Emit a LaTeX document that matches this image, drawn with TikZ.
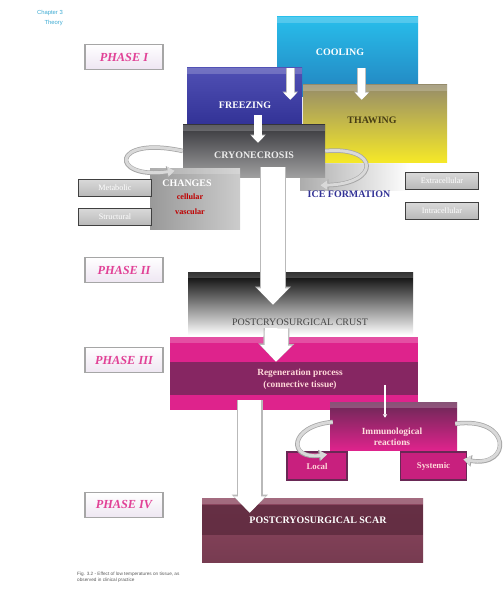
\documentclass[tikz,border=0pt]{standalone}
\usepackage{fontspec}
\setmainfont{Liberation Serif}
\setsansfont{Liberation Sans}
\usetikzlibrary{fit,calc,arrows.meta}

\definecolor{coolcyan}{RGB}{40,190,235}
\definecolor{cooldark}{RGB}{35,130,190}
\definecolor{freezeblue}{RGB}{45,45,145}
\definecolor{freezelight}{RGB}{80,80,180}
\definecolor{thawyellow}{RGB}{245,232,40}
\definecolor{thawolive}{RGB}{150,140,105}
\definecolor{thawtext}{RGB}{70,60,20}
\definecolor{cryodark}{RGB}{55,55,60}
\definecolor{phasepink}{RGB}{225,65,150}
\definecolor{phasefill}{RGB}{238,230,242}
\definecolor{regenpink}{RGB}{222,35,140}
\definecolor{regendark}{RGB}{105,40,85}
\definecolor{scarmauve}{RGB}{140,70,95}
\definecolor{scardark}{RGB}{90,40,60}
\definecolor{iceblue}{RGB}{50,50,150}
\definecolor{chaptercyan}{RGB}{60,170,210}

\tikzset{
  block/.style={rectangle, inner sep=0pt, draw=none,
    path picture={\fill[white,opacity=.2] (path picture bounding box.north west) rectangle ([yshift=-5pt]path picture bounding box.north east);}},
  bandblock/.style n args={3}{rectangle, inner sep=0pt, draw=none,
    path picture={\fill[#1,opacity=.75] ([yshift=-#2]path picture bounding box.north west) rectangle ([yshift=#3]path picture bounding box.south east);
      \fill[white,opacity=.2] (path picture bounding box.north west) rectangle ([yshift=-5pt]path picture bounding box.north east);}},
  blocktext/.style={font=\fontsize{8.5}{10}\selectfont\bfseries, text=white, inner sep=1pt},
  phase/.style={draw=gray!70, line width=1pt, top color=white, bottom color=phasefill, minimum width=2.34cm, minimum height=0.75cm,
    font=\fontsize{10.5}{12}\selectfont\bfseries\itshape, text=phasepink},
  sidebox/.style={draw=black!75, line width=0.9pt, minimum width=2.2cm, minimum height=0.5cm, inner sep=0pt,
    top color=gray!30, bottom color=gray!55, font=\fontsize{7}{8}\selectfont, text=white},
  pinkbox/.style={draw=regendark, line width=1pt, fill=regenpink!90!black, minimum height=0.84cm, inner sep=0pt,
    font=\fontsize{7.5}{9}\selectfont\bfseries, text=pink!60},
  redtext/.style={font=\fontsize{7}{8}\selectfont\bfseries, text=red!75!black, inner sep=1pt},
  bigarrow/.style={draw=white, line width=20pt, -{Triangle[length=14pt,width=26pt]},
    preaction={draw=gray!55, line width=22pt, -{Triangle[length=15.5pt,width=30pt]}}},
  smallarrow/.style={draw=white, line width=6pt, -{Triangle[length=6pt,width=11pt]},
    preaction={draw=gray!50, line width=7.5pt, -{Triangle[length=7pt,width=13pt]}}},
  ring/.style={draw=gray!30, line width=2.5pt, -{Triangle[length=6pt,width=8pt]},
    preaction={draw=gray!70, line width=3.8pt, -{Triangle[length=7pt,width=9.5pt]}}},
  thinarrow/.style={draw=white, line width=1.2pt, -{Triangle[length=3pt,width=3.5pt]}},
  chapter/.style={font=\sffamily\fontsize{5}{6}\selectfont, text=chaptercyan, inner sep=0pt, anchor=east},
  caption/.style={font=\sffamily\fontsize{4}{5}\selectfont, text=gray!70!black, inner sep=0pt, align=left, anchor=north west}
}

\begin{document}
\begin{tikzpicture}[x=0.03cm,y=-0.03cm]
\useasboundingbox (0,0) rectangle (503,592);

% heading
\node[chapter] (chap) at (63,13) {Chapter 3};
\node[chapter] (theory) at (63,23) {Theory};

% phases
\node[phase] (ph1) at (124,57) {PHASE I};
\node[phase] (ph2) at (124,270) {PHASE II};
\node[phase] (ph3) at (124,360) {PHASE III};
\node[phase] (ph4) at (124,505) {PHASE IV};

% phase I
\node[block, fit={(277,17) (418,97)}, top color=coolcyan, bottom color=cooldark] (cooling) {};
\node[blocktext] (tcool) at (340,52) {COOLING};
\node[block, fit={(300,158) (410,190)}, left color=gray!65, right color=white] (iceblock) {};
\node[block, fit={(303,85) (447,162)}, top color=thawolive, bottom color=thawyellow] (thawing) {};
\node[blocktext, text=thawtext] (tthaw) at (372,120) {THAWING};
\node[block, fit={(187,68) (302,135)}, top color=freezelight, bottom color=freezeblue] (freezing) {};
\node[blocktext] (tfreeze) at (245,105) {FREEZING};
\draw[smallarrow] ($(freezing.north east)+(-12,0)$) -- ($(freezing.north east)+(-12,32)$);
\draw[smallarrow] ($(thawing.north west)+(59,-17)$) -- ($(thawing.north west)+(59,15)$);

\node[block, fit={(183,125) (325,177)}, top color=cryodark, bottom color=gray!75] (cryo) {};
\node[blocktext, text=gray!15] (tcryo) at (254,155) {CRYONECROSIS};
\draw[smallarrow] ($(freezing.south)+(13.5,-20)$) -- ($(cryo.north)+(4,18)$);

\node[blocktext, text=iceblue] (ice) at (349,194) {ICE FORMATION};
\node[sidebox] (extra) at (442,181) {Extracellular};
\node[sidebox] (intra) at (442,211) {Intracellular};

\node[block, fit={(150,168) (240,229)}, left color=gray!80, right color=gray!40] (changes) {};
\node[blocktext] (tchanges) at (187,183) {CHANGES};
\node[redtext] (tcell) at (190,197) {cellular};
\node[redtext] (tvasc) at (190,212) {vascular};
\node[sidebox] (metab) at (115,188) {Metabolic};
\node[sidebox] (struct) at (115,217) {Structural};

\draw[ring] (cryo.west) .. controls (110,135) and (110,180) .. ($(changes.north west)+(25,3)$);
\draw[ring] (cryo.east) .. controls (380,146) and (380,184) .. ($(ice.north west)+(14,-4)$);

% phase II
\node[block, fit={(188,272) (413,335)}, top color=black, middle color=gray!55, bottom color=white] (crust) {};
\node[blocktext, font=\fontsize{8.5}{10}\selectfont, text=gray!55!black] (tcrust) at (300,322) {POSTCRYOSURGICAL CRUST};
\draw[bigarrow] ($(cryo.south)+(19,-10)$) -- ($(crust.north)+(-27.5,33)$);

% phase III
\node[bandblock={regendark}{0.75cm}{0.45cm}, fit={(170,337) (418,410)}, fill=regenpink] (regen) {};
\node[blocktext, align=center, font=\fontsize{8}{10}\selectfont\bfseries, text=pink!60] (tregen) at (300,379) {Regeneration process\\(connective tissue)};
\draw[bigarrow] ($(crust.south)+(-24,-7)$) -- ($(regen.north)+(-18,25)$);

\node[block, fit={(330,402) (457,450)}, top color=regendark, bottom color=regenpink] (immuno) {};
\node[blocktext, align=center, font=\fontsize{8}{9.5}\selectfont\bfseries, text=pink!50] (timmuno) at (392,437) {Immunological\\reactions};
\draw[thinarrow] ($(immuno.north)+(-8.5,-17)$) -- ($(immuno.north)+(-8.5,16)$);

\node[pinkbox, minimum width=1.8cm] (local) at (317,466) {Local};
\node[pinkbox, minimum width=2cm] (systemic) at (433.5,466) {Systemic};
\draw[ring] ($(immuno.west)+(3,-4)$) .. controls (288,426) and (288,460) .. ($(local.north)+(10,3)$);
\draw[ring] ($(immuno.north east)+(-2,22)$) .. controls (512,416) and (512,468) .. ($(systemic.north east)+(-4,8)$);

% phase IV
\node[bandblock={scardark}{0.22cm}{0.8cm}, fit={(202,498) (423,562)}, top color=scarmauve, bottom color=scarmauve!85!black] (scar) {};
\node[blocktext] (tscar) at (318,520) {POSTCRYOSURGICAL SCAR};
\draw[bigarrow] ($(regen.south west)+(80,-10)$) -- ($(scar.north west)+(48,15)$);

\node[caption] (cap) at (77,572) {Fig. 3.2 - Effect of low temperatures on tissue, as\\observed in clinical practice};

\end{tikzpicture}
\end{document}
